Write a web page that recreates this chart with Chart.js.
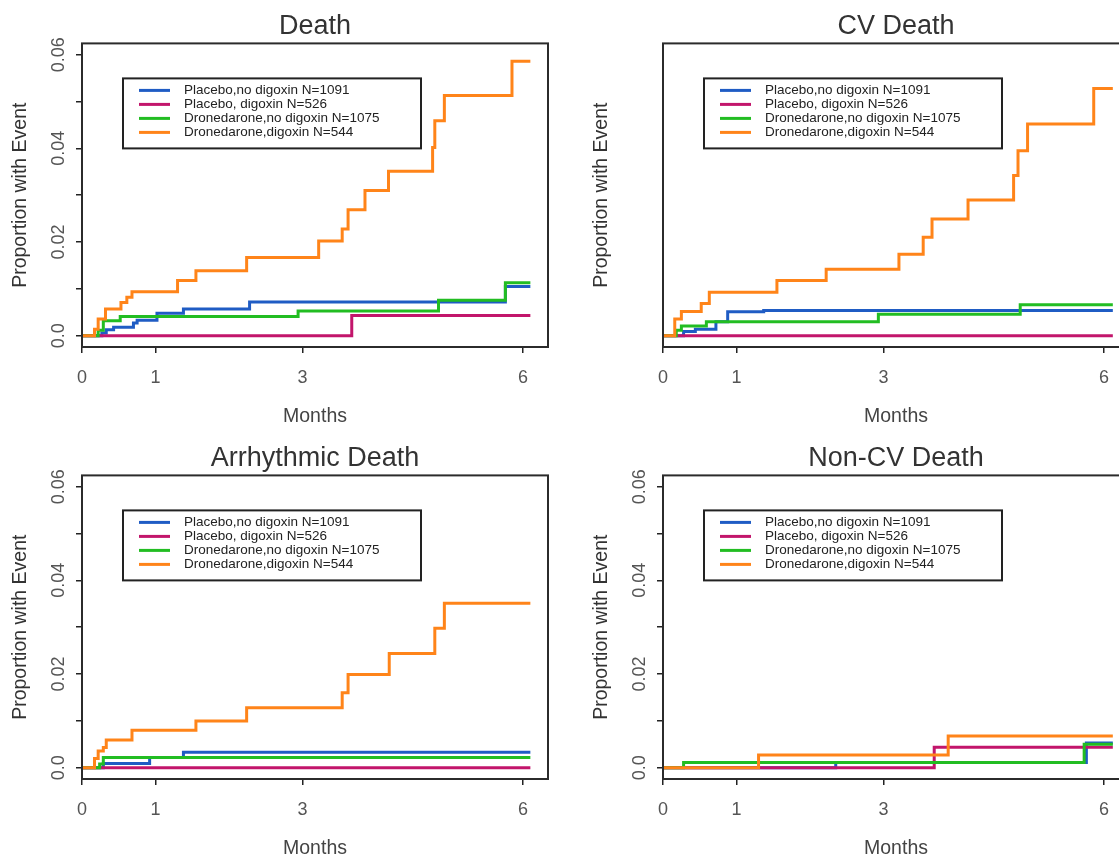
<!DOCTYPE html>
<html>
<head>
<meta charset="utf-8">
<script src="https://cdn.jsdelivr.net/npm/chart.js@4.4.1/dist/chart.umd.min.js"></script>
<style>
  html, body { margin: 0; padding: 0; background: #fff; overflow: hidden; }
  #wrap { position: relative; width: 1119px; height: 860px; overflow: hidden; }
  #wrap canvas { position: absolute; }
</style>
</head>
<body>
<div id="wrap">
  <canvas id="death" width="560" height="430" style="left:0;top:0"></canvas>
  <canvas id="cvDeath" width="560" height="430" style="left:581px;top:0"></canvas>
  <canvas id="arrDeath" width="560" height="430" style="left:0;top:432px"></canvas>
  <canvas id="nonCvDeath" width="560" height="430" style="left:581px;top:432px"></canvas>
</div>
<script>
// groups, in legend order
const groups = ['Placebo,no digoxin N=1091', 'Placebo, digoxin N=526', 'Dronedarone,no digoxin N=1075', 'Dronedarone,digoxin N=544'];
const groupColors = ['#1f5cc4', '#c2156b', '#22bd22', '#ff8419'];

const xTicks = [0, 1, 3, 6];
const yTicks = [0, 0.01, 0.02, 0.03, 0.04, 0.05, 0.06];
const yLabelVals = [0, 0.02, 0.04, 0.06];
const yLabels = ['0.0', '0.02', '0.04', '0.06'];

// [months, proportion with event] — step points
const deathPlaceboNoDig = [[0, 0], [0.27, 0.0006], [0.33, 0.0013], [0.43, 0.0018], [0.70, 0.0027], [0.75, 0.0033], [1.02, 0.0048], [1.38, 0.0057], [2.28, 0.0072], [5.76, 0.0105], [6.10, 0.0105]];
const deathPlaceboDig = [[0, 0], [3.67, 0.0043], [6.10, 0.0043]];
const deathDronNoDig = [[0, 0], [0.22, 0.0012], [0.29, 0.0032], [0.52, 0.0041], [2.94, 0.0053], [4.85, 0.0076], [5.76, 0.0113], [6.10, 0.0113]];
const deathDronDig = [[0, 0], [0.17, 0.0014], [0.22, 0.0036], [0.32, 0.0057], [0.53, 0.0071], [0.61, 0.0082], [0.68, 0.0094], [1.30, 0.0118], [1.55, 0.0139], [2.24, 0.0167], [3.22, 0.0202], [3.54, 0.0228], [3.62, 0.0269], [3.85, 0.031], [4.17, 0.0351], [4.77, 0.0402], [4.80, 0.0459], [4.93, 0.0513], [5.85, 0.0586], [6.10, 0.0586]];

const cvPlaceboNoDig = [[0, 0], [0.28, 0.0009], [0.44, 0.0014], [0.72, 0.003], [0.88, 0.0051], [1.37, 0.0054], [6.12, 0.0054]];
const cvPlaceboDig = [[0, 0], [6.12, 0]];
const cvDronNoDig = [[0, 0], [0.18, 0.0012], [0.25, 0.0021], [0.59, 0.003], [2.93, 0.0046], [4.86, 0.0066], [6.12, 0.0066]];
const cvDronDig = [[0, 0], [0.16, 0.0036], [0.25, 0.0052], [0.52, 0.0069], [0.63, 0.0093], [1.55, 0.0118], [2.22, 0.0142], [3.21, 0.0174], [3.54, 0.021], [3.66, 0.0249], [4.15, 0.029], [4.77, 0.0342], [4.83, 0.0395], [4.96, 0.0452], [5.86, 0.0528], [6.12, 0.0528]];

const arrPlaceboNoDig = [[0, 0], [0.29, 0.0009], [0.92, 0.0022], [1.38, 0.0033], [6.10, 0.0033]];
const arrPlaceboDig = [[0, 0], [6.10, 0]];
const arrDronNoDig = [[0, 0], [0.24, 0.0008], [0.29, 0.0022], [6.10, 0.0022]];
const arrDronDig = [[0, 0], [0.17, 0.002], [0.22, 0.0036], [0.29, 0.0043], [0.33, 0.0059], [0.68, 0.008], [1.55, 0.01], [2.24, 0.0128], [3.54, 0.016], [3.62, 0.0199], [4.18, 0.0244], [4.80, 0.0298], [4.93, 0.0351], [6.10, 0.0351]];

const nonCvPlaceboNoDig = [[0, 0], [2.35, 0.0011], [5.76, 0.0053], [6.12, 0.0053]];
const nonCvPlaceboDig = [[0, 0], [3.69, 0.0044], [6.12, 0.0044]];
const nonCvDronNoDig = [[0, 0], [0.28, 0.0011], [5.73, 0.005], [6.12, 0.005]];
const nonCvDronDig = [[0, 0], [1.30, 0.0027], [3.88, 0.0068], [6.12, 0.0068]];

Chart.defaults.font.family = '"Liberation Sans", Arial, sans-serif';

// R-style frame, rotated y labels and boxed legend inside the plot
const rFrame = {
  id: 'rFrame',
  afterDatasetsDraw(chart, args, opts) {
    const { ctx, chartArea: ca } = chart;
    ctx.save();
    ctx.strokeStyle = '#2b2b2b';
    ctx.lineWidth = 2;
    ctx.strokeRect(ca.left, ca.top, ca.right - ca.left, ca.bottom - ca.top);

    if (opts.yLabels) {
      ctx.fillStyle = '#555';
      ctx.font = '18px "Liberation Sans", Arial, sans-serif';
      ctx.textAlign = 'center';
      ctx.textBaseline = 'alphabetic';
      yLabelVals.forEach((v, i) => {
        const y = chart.scales.y.getPixelForValue(v);
        ctx.save();
        ctx.translate(ca.left - 18.5, y);
        ctx.rotate(-Math.PI / 2);
        ctx.fillText(yLabels[i], 0, 0);
        ctx.restore();
      });
    }

    // legend
    const bx = ca.left + 41, by = ca.top + 35;
    ctx.strokeStyle = '#222';
    ctx.lineWidth = 2;
    ctx.strokeRect(bx, by, 298, 70);
    ctx.font = '13.5px "Liberation Sans", Arial, sans-serif';
    ctx.textAlign = 'left';
    ctx.textBaseline = 'middle';
    chart.data.datasets.forEach((d, i) => {
      const y = by + 12 + i * 14;
      ctx.strokeStyle = d.borderColor;
      ctx.lineWidth = 3;
      ctx.beginPath();
      ctx.moveTo(bx + 16, y);
      ctx.lineTo(bx + 47, y);
      ctx.stroke();
      ctx.fillStyle = '#222';
      ctx.fillText(d.label, bx + 61, y);
    });
    ctx.restore();
  },
};

function makePanel(id, title, seriesList, showY) {
  const datasets = seriesList.map((s, i) => ({
    label: groups[i],
    data: s.map(([x, y]) => ({ x, y })),
    borderColor: groupColors[i],
    borderWidth: 3,
    pointRadius: 0,
    stepped: 'before',
    fill: false,
    borderJoinStyle: 'miter',
    order: 4 - i,
  }));
  return new Chart(document.getElementById(id), {
    type: 'line',
    data: { datasets },
    plugins: [rFrame],
    options: {
      responsive: false,
      animation: false,
      layout: { padding: { left: 0, right: 12, top: 0, bottom: 0 } },
      plugins: {
        legend: { display: false },
        tooltip: { enabled: false },
        title: {
          display: true, text: title, fullSize: false, color: '#333',
          font: { size: 27, weight: 'normal' }, padding: { top: 10, bottom: 1 },
        },
        rFrame: { yLabels: showY },
      },
      scales: {
        x: {
          type: 'linear', min: 0, max: 6.34,
          afterBuildTicks: (s) => { s.ticks = xTicks.map((v) => ({ value: v })); },
          afterFit: (s) => { s.height = 83; },
          grid: { drawOnChartArea: false, drawTicks: true, tickLength: 6, color: '#222', lineWidth: 1.5 },
          border: { display: false },
          ticks: { padding: 14.5, color: '#555', font: { size: 18 }, maxRotation: 0, autoSkip: false, callback: (v) => String(v) },
          title: { display: true, text: 'Months', color: '#444', font: { size: 19.5 }, padding: { top: 0, bottom: 2 } },
        },
        y: {
          type: 'linear', min: -0.0024, max: 0.0624,
          afterBuildTicks: (s) => { s.ticks = yTicks.map((v) => ({ value: v })); },
          afterFit: (s) => { s.width = 82; },
          grid: { display: showY, drawOnChartArea: false, drawTicks: true, tickLength: 6, color: '#222', lineWidth: 1.5 },
          border: { display: false },
          ticks: { display: false },
          title: { display: true, text: 'Proportion with Event', color: '#333', font: { size: 19.5 }, padding: { top: 9, bottom: 0 } },
        },
      },
    },
  });
}

makePanel('death', 'Death', [deathPlaceboNoDig, deathPlaceboDig, deathDronNoDig, deathDronDig], true);
makePanel('cvDeath', 'CV Death', [cvPlaceboNoDig, cvPlaceboDig, cvDronNoDig, cvDronDig], false);
makePanel('arrDeath', 'Arrhythmic Death', [arrPlaceboNoDig, arrPlaceboDig, arrDronNoDig, arrDronDig], true);
makePanel('nonCvDeath', 'Non-CV Death', [nonCvPlaceboNoDig, nonCvPlaceboDig, nonCvDronNoDig, nonCvDronDig], true);
</script>
</body>
</html>
